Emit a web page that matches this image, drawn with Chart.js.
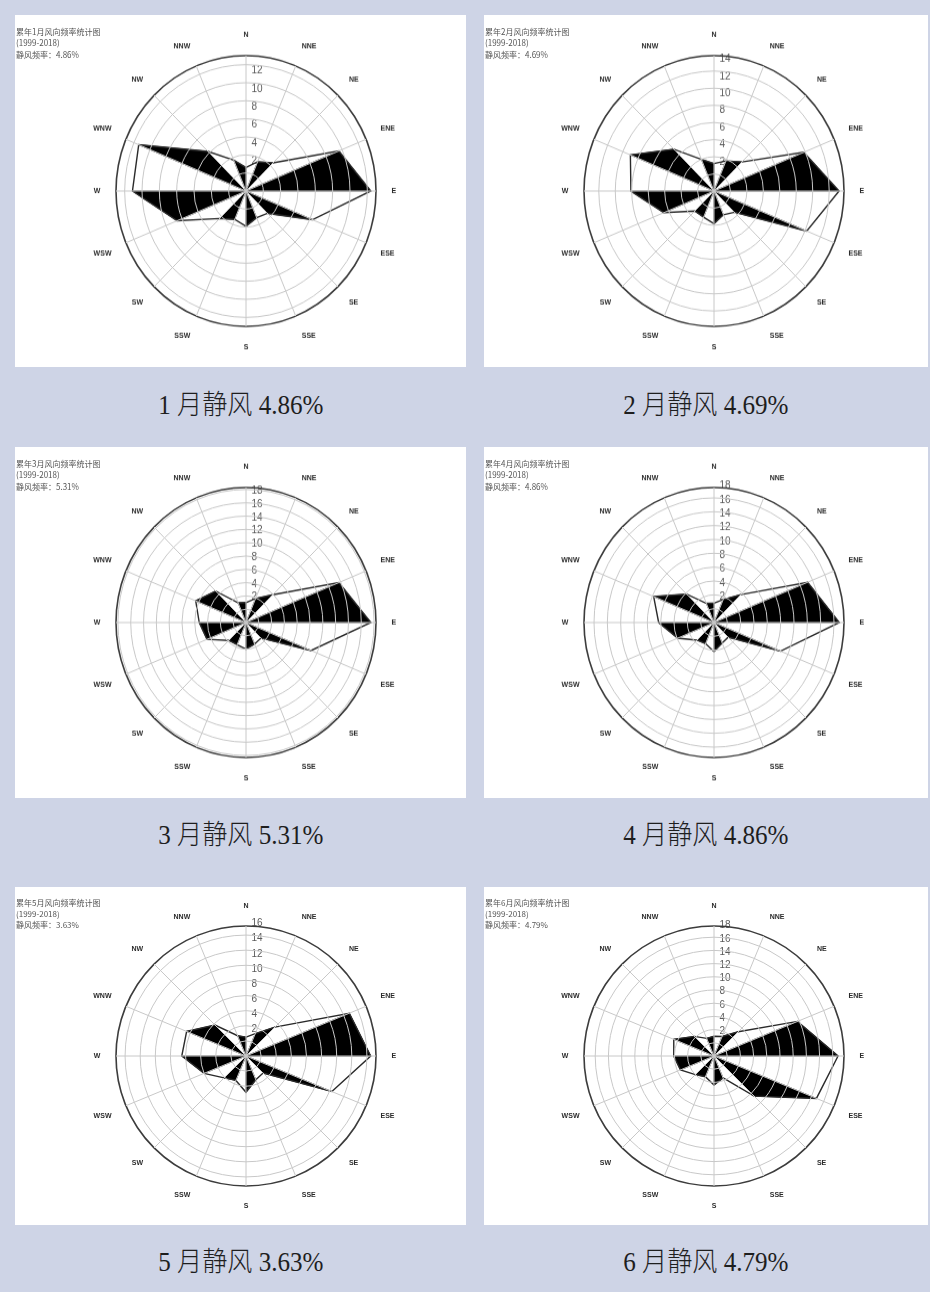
<!DOCTYPE html>
<html>
<head>
<meta charset="utf-8">
<script src="https://cdn.jsdelivr.net/npm/chart.js@4.4.1/dist/chart.umd.min.js"></script>
<style>
  body { margin: 0; width: 930px; height: 1292px; background: #ced4e6; position: relative; overflow: hidden; }
  .panel { position: absolute; background: #fff; overflow: hidden; }
  .inner { position: absolute; left: 0; top: 0; transform-origin: 0 0; }
  .head { position: absolute; left: 1px; top: 10px; font: 8px/11.2px "Noto Sans CJK SC", sans-serif; color: #555; white-space: pre; }
  .cap { position: absolute; text-align: center; font: 300 27px/30px "Liberation Serif", "Noto Sans CJK SC", serif; color: #1e1e1e; }
  .cap span { display: inline-block; transform: scaleX(0.93); }
</style>
</head>
<body>
<script>
// 16 wind directions, clockwise from north
const directions = ['N','NNE','NE','ENE','E','ESE','SE','SSE','S','SSW','SW','WSW','W','WNW','NW','NNW'];
const monthNames = ['1', '2', '3', '4', '5', '6'];
const calmPct = ['4.86', '4.69', '5.31', '4.86', '3.63', '4.79'];

// wind direction frequency (%) per month
const freqJan = [2.6, 3.5, 4.4, 11.6, 14.4, 8.3, 3.5, 3.2, 3.9, 3.4, 4.3, 8.6, 13.1, 13.4, 6.2, 3.7];
const freqFeb = [3.2, 3.8, 4.8, 11.8, 15.2, 12.2, 3.5, 3.0, 3.8, 3.3, 3.3, 6.6, 10.1, 11.0, 6.9, 4.0];
const freqMar = [3.0, 3.9, 5.9, 15.7, 19.5, 11.0, 3.3, 3.5, 4.0, 3.6, 3.8, 6.6, 7.3, 8.5, 6.7, 3.2];
const freqApr = [2.8, 3.6, 5.7, 15.2, 18.8, 10.8, 3.0, 3.2, 4.2, 3.3, 3.6, 5.9, 8.3, 9.8, 5.8, 3.0];
const freqMay = [2.5, 3.2, 5.4, 14.8, 16.5, 12.3, 3.2, 3.4, 4.8, 3.5, 4.1, 6.0, 8.5, 8.5, 5.8, 2.9];
const freqJun = [3.0, 3.2, 5.2, 13.7, 18.8, 16.8, 8.6, 3.6, 4.4, 3.4, 4.0, 5.5, 6.1, 6.6, 4.2, 2.9];

// outer circle value of each rose and its tick labels
const axisMax = [15, 15.8, 20.3, 19.5, 17.2, 19.7];
const ticksJan = [2, 4, 6, 8, 10, 12];
const ticksFeb = [2, 4, 6, 8, 10, 12, 14];
const ticksMar = [2, 4, 6, 8, 10, 12, 14, 16, 18];
const ticksApr = [2, 4, 6, 8, 10, 12, 14, 16, 18];
const ticksMay = [2, 4, 6, 8, 10, 12, 14, 16];
const ticksJun = [2, 4, 6, 8, 10, 12, 14, 16, 18];

const allFreq = [freqJan, freqFeb, freqMar, freqApr, freqMay, freqJun];
const allTicks = [ticksJan, ticksFeb, ticksMar, ticksApr, ticksMay, ticksJun];

// page layout: white boxes and caption rows
const boxes = [
  {x: 15,  y: 15,  w: 451, h: 352, capY: 405},
  {x: 484, y: 15,  w: 444, h: 352, capY: 405},
  {x: 15,  y: 447, w: 451, h: 351, capY: 835},
  {x: 484, y: 447, w: 444, h: 351, capY: 835},
  {x: 15,  y: 887, w: 451, h: 338, capY: 1262},
  {x: 484, y: 887, w: 444, h: 338, capY: 1262}
];
const baseH = 338;
const narrow = '"Liberation Sans Narrow", "Liberation Sans", "DejaVu Sans Condensed", sans-serif';

function wedge(vals, k) {
  // keep values at k and k+1 only -> filled triangle centre / tip k / tip k+1
  return vals.map((v, i) => (i === k || i === (k + 1) % 16) ? v : 0);
}

function makeRose(idx) {
  const b = boxes[idx];
  const vals = allFreq[idx];
  const M = axisMax[idx];
  const left = b.x < 100;

  const panel = document.createElement('div');
  panel.className = 'panel';
  panel.style.cssText = `left:${b.x}px;top:${b.y}px;width:${b.w}px;height:${b.h}px`;
  document.body.appendChild(panel);

  const inner = document.createElement('div');
  inner.className = 'inner';
  inner.style.width = b.w + 'px';
  inner.style.height = baseH + 'px';
  inner.style.transform = `scaleY(${b.h / baseH})`;
  panel.appendChild(inner);

  const head = document.createElement('div');
  head.className = 'head';
  head.textContent = `累年${monthNames[idx]}月风向频率统计图\n(1999-2018)\n静风频率：${calmPct[idx]}%`;
  inner.appendChild(head);

  const cv = document.createElement('canvas');
  cv.width = b.w;
  cv.height = baseH;
  inner.appendChild(cv);

  const cap = document.createElement('div');
  cap.className = 'cap';
  cap.style.cssText = `left:${b.x}px;width:${b.w}px;top:${b.capY - 15}px`;
  cap.innerHTML = `<span>${monthNames[idx]} 月静风 ${calmPct[idx]}%</span>`;
  document.body.appendChild(cap);

  const datasets = [{
    data: vals,
    borderColor: '#2a2a2a',
    borderWidth: 1.4,
    backgroundColor: 'rgba(0,0,0,0)',
    fill: false
  }];
  for (let k = 1; k < 16; k += 2) {
    datasets.push({
      data: wedge(vals, k),
      borderColor: '#000',
      borderWidth: 0.8,
      backgroundColor: '#000',
      fill: 'origin'
    });
  }

  const labelShift = 11.5 * M / 130;   // labels sit a little outside their ring
  const tickLabels = allTicks[idx];

  new Chart(cv, {
    type: 'radar',
    data: { labels: directions, datasets },
    options: {
      responsive: false,
      animation: false,
      devicePixelRatio: 1,
      layout: { padding: { left: left ? 11 : 17, right: 0, top: 16, bottom: 14 } },
      elements: { point: { radius: 0 }, line: { tension: 0 } },
      plugins: { legend: { display: false }, tooltip: { enabled: false } },
      scales: {
        r: {
          min: 0,
          max: M,
          afterBuildTicks: scale => {
            const t = [];
            for (let v = 0; v < M - 0.01; v += 2) t.push({value: v, ring: true});
            t.push({value: M, ring: true, outer: true});
            tickLabels.forEach(v => t.push({value: v + labelShift, text: String(v)}));
            t.sort((a, c) => a.value - c.value);
            scale.ticks = t;
          },
          grid: {
            circular: true,
            z: 1,
            color: c => c.tick && c.tick.outer ? '#3c3c3c' : (c.tick && c.tick.ring ? '#c8c8c8' : 'rgba(0,0,0,0)'),
            lineWidth: c => c.tick && c.tick.outer ? 1.6 : 1
          },
          angleLines: { color: '#c8c8c8', lineWidth: 1 },
          pointLabels: {
            padding: 10.6,
            color: '#2b2b2b',
            font: { family: narrow, size: 7, weight: 'bold' }
          },
          ticks: {
            display: true,
            autoSkip: false,
            showLabelBackdrop: false,
            backdropPadding: 0,
            color: '#5a5a5a',
            font: { family: narrow, size: 10 },
            callback: (v, i, ts) => ts[i].text ? ' '.repeat(4 + 2 * ts[i].text.length) + ts[i].text : ''
          }
        }
      }
    }
  });
}

for (let i = 0; i < 6; i++) makeRose(i);
</script>
</body>
</html>
